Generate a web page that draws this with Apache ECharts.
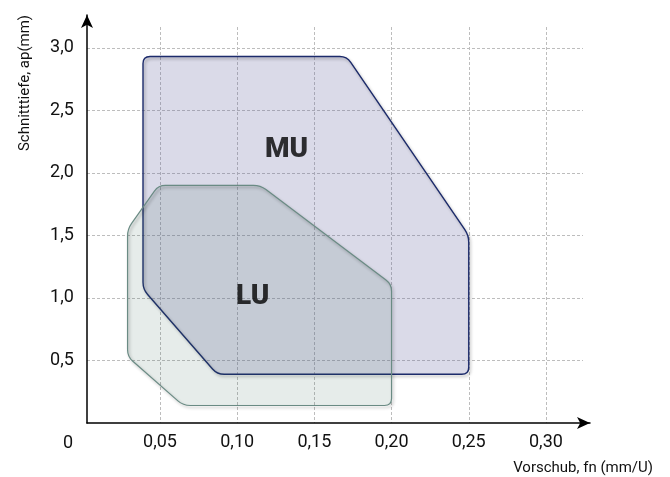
<!DOCTYPE html>
<html><head><meta charset="utf-8">
<script src="https://cdn.jsdelivr.net/npm/echarts@6/dist/echarts.min.js"></script>
<style>html,body{margin:0;padding:0;background:#fff}#c{width:670px;height:477px}</style>
</head><body><div id="c"></div>
<script>
// ---- data ----
const xTicks = [0.05, 0.10, 0.15, 0.20, 0.25, 0.30];
const yTicks = [0.5, 1.0, 1.5, 2.0, 2.5, 3.0];
const muX = [0.039, 0.171, 0.25, 0.25, 0.087, 0.039];
const muY = [2.93, 2.93, 1.50, 0.39, 0.39, 1.07];
const luX = [0.049, 0.115, 0.20, 0.20, 0.065, 0.029, 0.029];
const luY = [1.90, 1.90, 1.11, 0.14, 0.14, 0.53, 1.55];
const regionNames = ['MU', 'LU'];
const labelX = [0.132, 0.110];
const labelY = [2.18, 1.01];
const originLabel = '0';
const xTitle = 'Vorschub, fn (mm/U)';
const yTitle = 'Schnitttiefe, ap(mm)';

const FONT = 'Roboto, "Liberation Sans", sans-serif';
const fmt = d => v => (xTicks.concat(yTicks).some(t => Math.abs(t - v) < 1e-9)) ? v.toFixed(d).replace('.', ',') : '';

function roundedPath(pts, r) {
  const n = pts.length; let d = '';
  for (let i = 0; i < n; i++) {
    const p0 = pts[(i - 1 + n) % n], p = pts[i], p1 = pts[(i + 1) % n];
    const v0 = [p0[0] - p[0], p0[1] - p[1]], v1 = [p1[0] - p[0], p1[1] - p[1]];
    const l0 = Math.hypot(v0[0], v0[1]), l1 = Math.hypot(v1[0], v1[1]);
    const rr = Math.min(r, l0 / 2, l1 / 2);
    const a = [p[0] + v0[0] / l0 * rr, p[1] + v0[1] / l0 * rr];
    const b = [p[0] + v1[0] / l1 * rr, p[1] + v1[1] / l1 * rr];
    d += (i === 0 ? 'M' : 'L') + a[0] + ' ' + a[1] + ' Q' + p[0] + ' ' + p[1] + ' ' + b[0] + ' ' + b[1] + ' ';
  }
  return d + 'Z';
}

function makeRender(fill, stroke, lw) {
  return function (params, api) {
    if (params.dataIndexInside !== 0) return;
    const pts = [];
    for (let i = 0; i < params.dataInsideLength; i++) {
      pts.push(api.coord([api.value(0, i), api.value(1, i)]));
    }
    const xs = pts.map(p => p[0]), ys = pts.map(p => p[1]);
    const x0 = Math.min(...xs), y0 = Math.min(...ys);
    const shape = {
      pathData: roundedPath(pts, 7),
      x: x0, y: y0, width: Math.max(...xs) - x0, height: Math.max(...ys) - y0,
      layout: 'cover'
    };
    return {
      type: 'group',
      children: [
        { type: 'path', shape: shape, style: { fill: fill, stroke: null } },
        { type: 'path', shape: shape, style: { fill: null, stroke: stroke, lineWidth: lw,
          shadowBlur: 3, shadowOffsetX: 1.5, shadowOffsetY: 2, shadowColor: 'rgba(0,0,0,0.3)' } }
      ]
    };
  };
}

const chart = echarts.init(document.getElementById('c'), null, { renderer: 'canvas' });
const hidden = { show: false };
chart.setOption({
  animation: false,
  backgroundColor: '#fff',
  grid: [
    { left: 82.8, right: 87, top: 27, bottom: 54 },
    { left: 87, right: 87, top: 27, bottom: 54 },
    { left: 87, right: 80, top: 15, bottom: 54 }
  ],
  xAxis: [
    {
      gridIndex: 0, type: 'value', min: 0, max: 0.324, interval: 0.05,
      axisLine: hidden, axisTick: hidden,
      axisLabel: { formatter: fmt(2), fontFamily: FONT, fontSize: 18, color: '#111', margin: 10, showMinLabel: false, showMaxLabel: false },
      splitLine: { show: true, showMinLine: false, showMaxLine: false, lineStyle: { type: [3, 2], color: '#bdbdbd', width: 1 } }
    },
    { gridIndex: 1, type: 'value', min: 0, max: 1, show: false },
    {
      gridIndex: 2, type: 'value', min: 0, max: 1,
      axisLine: { show: true, onZero: false, symbol: ['none', 'arrow'], symbolSize: [9, 13], lineStyle: { color: '#000', width: 1.5 } },
      axisTick: hidden, axisLabel: hidden, splitLine: hidden
    }
  ],
  yAxis: [
    {
      gridIndex: 0, type: 'value', min: 0, max: 3.166, interval: 0.5,
      axisLine: hidden, axisTick: hidden, splitLine: hidden,
      axisLabel: { formatter: fmt(1), fontFamily: FONT, fontSize: 18, color: '#111', margin: 9, showMinLabel: false, showMaxLabel: false }
    },
    {
      gridIndex: 1, type: 'value', min: 0, max: 3.166, interval: 0.5,
      axisLine: hidden, axisTick: hidden, axisLabel: hidden,
      splitLine: { show: true, showMinLine: false, showMaxLine: false, lineStyle: { type: [3, 2], color: '#bdbdbd', width: 1 } }
    },
    {
      gridIndex: 2, type: 'value', min: 0, max: 1,
      axisLine: { show: true, onZero: false, symbol: ['none', 'arrow'], symbolSize: [9, 13], lineStyle: { color: '#000', width: 1.5 } },
      axisTick: hidden, axisLabel: hidden, splitLine: hidden
    }
  ],
  graphic: [
    { type: 'text', x: 68, y: 443, style: { text: originLabel, font: '18px ' + FONT, fill: '#111', align: 'center', verticalAlign: 'middle' } },
    { type: 'text', x: 653, y: 468, style: { text: xTitle, font: '15px ' + FONT, fill: '#111', align: 'right', verticalAlign: 'middle' } },
    { type: 'text', x: 25, y: 83, rotation: Math.PI / 2, style: { text: yTitle, font: '15px ' + FONT, fill: '#111', align: 'center', verticalAlign: 'middle' } }
  ],
  series: [
    {
      type: 'custom', name: regionNames[0], xAxisIndex: 0, yAxisIndex: 0, z: 2,
      renderItem: makeRender('rgba(100,100,160,0.24)', '#1c2b6b', 1.4),
      data: muX.map((x, i) => [x, muY[i]])
    },
    {
      type: 'custom', name: regionNames[1], xAxisIndex: 0, yAxisIndex: 0, z: 3,
      renderItem: makeRender('rgba(47,97,80,0.12)', '#6a8b84', 1.2),
      data: luX.map((x, i) => [x, luY[i]])
    },
    {
      type: 'scatter', xAxisIndex: 0, yAxisIndex: 0, z: 5, symbolSize: 0, silent: true,
      label: { show: true, position: 'inside', formatter: p => p.value[2], fontFamily: FONT, fontSize: 28, fontWeight: 900, color: '#000' },
      data: regionNames.map((n, i) => [labelX[i], labelY[i], n])
    }
  ]
});
</script>
</body></html>
